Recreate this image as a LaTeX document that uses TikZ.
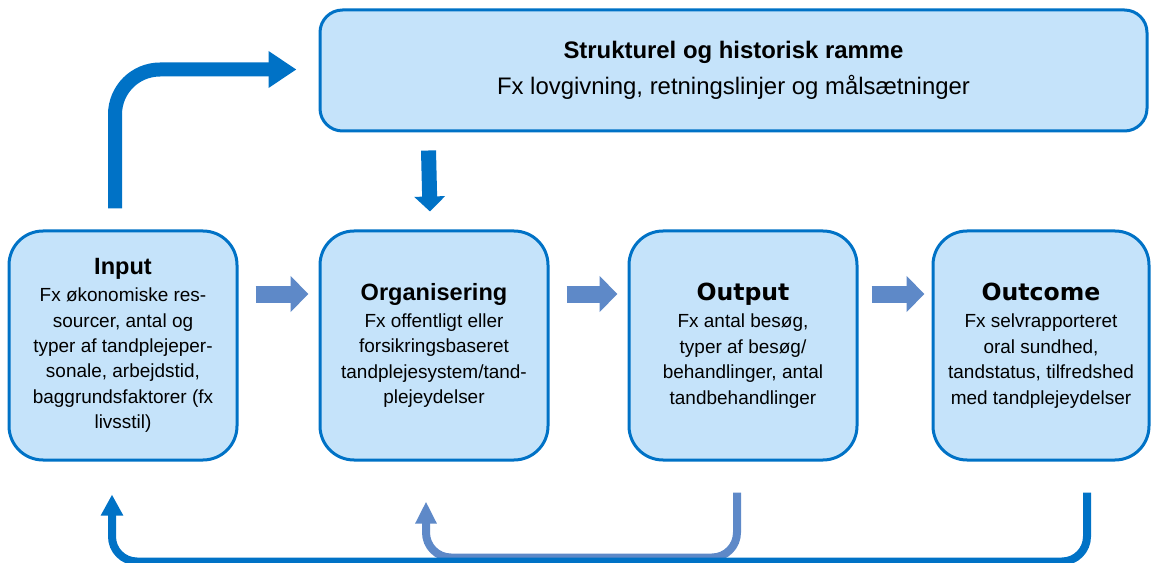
\documentclass[tikz,border=0pt]{standalone}
\usepackage{fontspec}
\setmainfont{Liberation Sans}
\newfontfamily\widefont{DejaVu Sans}
\usetikzlibrary{arrows.meta, positioning}
\definecolor{boxblue}{RGB}{0,114,198}
\definecolor{boxfill}{RGB}{197,227,250}
\definecolor{steelblue}{RGB}{94,137,200}

\begin{document}
\begin{tikzpicture}[
    node distance=1.6cm,
    box/.style={rectangle, rounded corners=0.68cm, draw=boxblue, line width=0.06cm, fill=boxfill, align=center, minimum width=4.56cm, minimum height=4.58cm, inner sep=2pt, font=\fontsize{10.8}{14.5}\selectfont},
    framebox/.style={rectangle, rounded corners=0.45cm, draw=boxblue, line width=0.06cm, fill=boxfill, align=center, minimum width=16.54cm, minimum height=2.42cm, font=\fontsize{13.6}{20.5}\selectfont},
    bigarrow/.style={draw=boxblue, line width=0.28cm, -{Triangle[width=0.7cm, length=0.56cm]}},
    downarrow/.style={draw=boxblue, line width=0.3cm, -{Triangle[width=0.6cm, length=0.3cm]}},
    blockarrow/.style={draw=steelblue, line width=0.34cm, -{Triangle[width=0.7cm, length=0.36cm]}, shorten <=0.34cm, shorten >=0.2cm},
    backarrow/.style={draw=boxblue, line width=0.16cm, rounded corners=0.5cm, -{Triangle[width=0.42cm, length=0.42cm]}},
    steelback/.style={draw=steelblue, line width=0.16cm, rounded corners=0.5cm, -{Triangle[width=0.4cm, length=0.44cm]}}
]
\useasboundingbox (0,0) rectangle (23.02,-11.26);

% Input
\node[box] (input) at (2.46,-6.91) {{\fontsize{13.4}{16}\selectfont\bfseries Input}\\[1pt]
    Fx økonomiske res-\\sourcer, antal og\\typer af tandplejeper-\\sonale, arbejdstid,\\baggrundsfaktorer (fx\\livsstil)};

% Organisering
\node[box, right=1.6cm of input] (org) {{\fontsize{13.4}{16}\selectfont\bfseries Organisering}\\[1pt]
    Fx offentligt eller\\forsikringsbaseret\\tandplejesystem/tand-\\plejeydelser};

% Output
\node[box, right=1.56cm of org] (output) {{\widefont\fontsize{13.4}{16}\selectfont\bfseries Output}\\[1pt]
    Fx antal besøg,\\typer af besøg/\\behandlinger, antal\\tandbehandlinger};

% Outcome
\node[box, right=1.46cm of output, minimum width=4.32cm] (outcome) {{\widefont\fontsize{13.4}{16}\selectfont\bfseries Outcome}\\[1pt]
    Fx selvrapporteret\\oral sundhed,\\tandstatus, tilfredshed\\med tandplejeydelser};

% Structural frame
\node[framebox, above=1.94cm of org.north west, anchor=south west] (frame) {{\bfseries Strukturel og historisk ramme}\\
    Fx lovgivning, retningslinjer og målsætninger};

% Arrows
\draw[bigarrow, rounded corners=0.9cm] ([xshift=-0.16cm, yshift=0.42cm]input.north) |- ([xshift=-0.44cm, yshift=0.02cm]frame.west);
\draw[downarrow] ([xshift=2.2cm, yshift=-0.36cm]frame.south west) -- ([xshift=-0.08cm, yshift=0.36cm]org.north);
\draw[blockarrow] ([yshift=1.03cm]input.east) -- ([yshift=1.03cm]org.west);
\draw[blockarrow] ([yshift=1.03cm]org.east) -- ([yshift=1.03cm]output.west);
\draw[blockarrow, shorten <=0.26cm, shorten >=0.14cm] ([yshift=1.03cm]output.east) -- ([yshift=1.03cm]outcome.west);
\draw[steelback] ([xshift=-0.12cm, yshift=-0.62cm]output.south) -- ++(0,-1.3) -| ([xshift=-0.16cm, yshift=-0.8cm]org.south);
\draw[backarrow] ([xshift=0.92cm, yshift=-0.62cm]outcome.south) -- ++(0,-1.38) -| ([xshift=-0.22cm, yshift=-0.66cm]input.south);

\end{tikzpicture}
\end{document}
